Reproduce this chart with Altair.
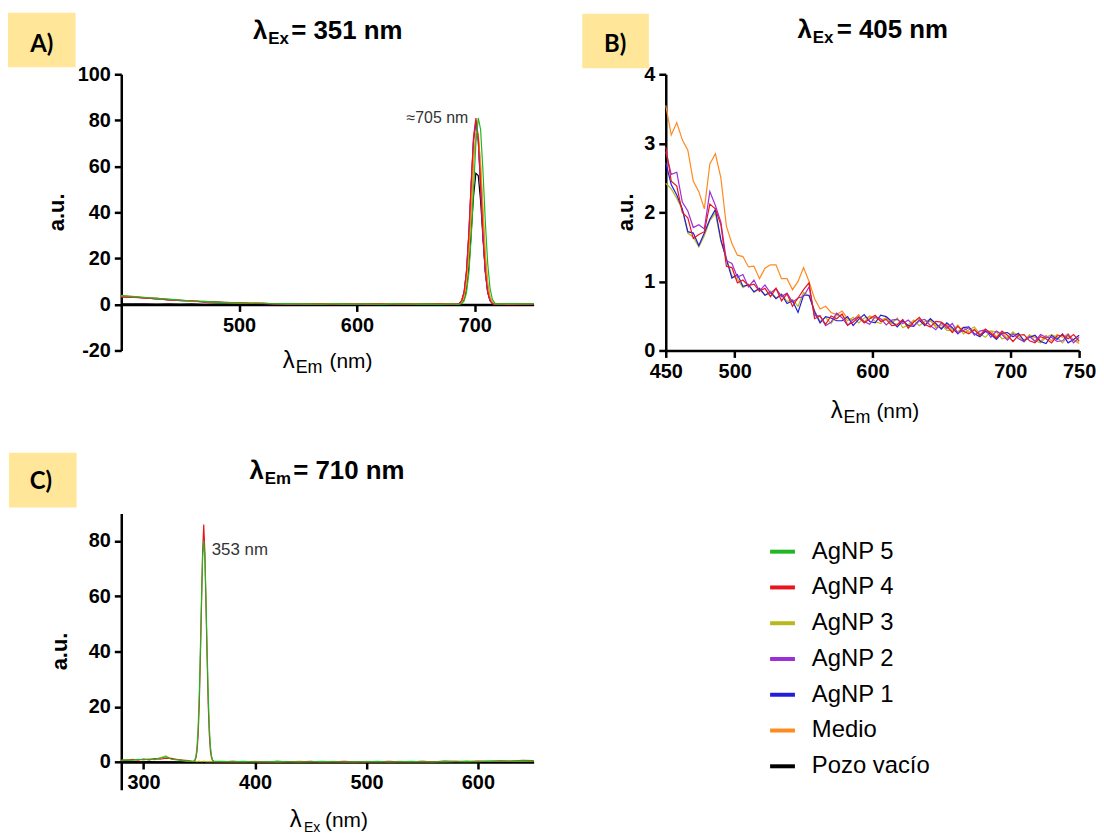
import altair as alt
import pandas as pd

SERIES = ["AgNP 5", "AgNP 4", "AgNP 3", "AgNP 2", "AgNP 1", "Medio", "Pozo vacío"]
COLORS = ["#22B722", "#E8161B", "#B8B81E", "#9B2FD6", "#1E1EDC", "#FF8A1E", "#000000"]
FONT = "Liberation Sans"

# ---------------- Panel A: excitation 351 nm, emission spectra ----------------
A_X = list(range(400, 681, 10)) + list(range(685, 720, 2)) + [730, 740, 750]
A_AGNP5 = ([3.8, 3.4, 3.0, 2.6, 2.3, 1.9, 1.5, 1.3, 1.0, 0.8, 0.7, 0.5, 0.5, 0.3, 0.4,
            0.2, 0.3, 0.1, 0.3, 0.2, 0.1, 0.3, 0.0, 0.2, 0.3, 0.1, 0.2, 0.0, 0.3]
           + [0.0, 0.1, 0.4, 1.5, 5, 13.5, 29, 50, 70, 81, 76, 58, 36, 18, 7, 2.2, 0.6, 0.1]
           + [0.4, 0.2, 0.3])
A_AGNP4 = ([3.2, 3.3, 2.7, 2.5, 2.0, 1.7, 1.6, 1.1, 1.1, 0.7, 0.8, 0.4, 0.6, 0.2, 0.4,
            0.1, 0.3, 0.2, 0.0, 0.3, 0.1, 0.2, 0.3, 0.0, 0.2, 0.1, 0.3, 0.2, 0.1]
           + [0.1, 0.4, 1.7, 5.4, 14.4, 30.6, 52.6, 72.7, 81, 72.7, 52.6, 30.6, 14.4, 5.4, 1.7, 0.4, 0.1, 0.0]
           + [0.3, 0.1, 0.2])
A_AGNP3 = ([4.0, 3.3, 3.1, 2.4, 2.2, 1.8, 1.4, 1.2, 0.9, 0.9, 0.6, 0.6, 0.4, 0.4, 0.2,
            0.3, 0.1, 0.3, 0.2, 0.1, 0.3, 0.1, 0.2, 0.2, 0.0, 0.3, 0.1, 0.2, 0.2]
           + [0.1, 0.3, 1.0, 3.5, 10, 23, 42, 63, 75, 74, 61, 41, 22, 9.5, 3.2, 0.9, 0.2, 0.0]
           + [0.2, 0.3, 0.4])
A_AGNP2 = ([3.5, 3.1, 2.8, 2.6, 2.0, 1.8, 1.3, 1.2, 1.0, 0.7, 0.7, 0.5, 0.4, 0.3, 0.3,
            0.2, 0.2, 0.1, 0.2, 0.0, 0.2, 0.1, 0.1, 0.3, 0.1, 0.0, 0.2, 0.1, 0.2]
           + [0.1, 0.4, 1.7, 5.3, 14.2, 30.2, 52, 71.8, 80, 71.8, 52, 30.2, 14.2, 5.3, 1.7, 0.4, 0.1, 0.0]
           + [0.1, 0.2, 0.1])
A_AGNP1 = ([3.4, 3.2, 2.9, 2.3, 2.1, 1.6, 1.5, 1.1, 0.9, 0.8, 0.5, 0.5, 0.3, 0.4, 0.2,
            0.2, 0.1, 0.2, 0.1, 0.1, 0.0, 0.2, 0.1, 0.1, 0.2, 0.0, 0.1, 0.1, 0.0]
           + [0.1, 0.4, 1.6, 5.2, 14.0, 29.8, 51.3, 70.9, 79, 70.9, 51.3, 29.8, 14.0, 5.2, 1.6, 0.4, 0.1, 0.0]
           + [0.1, 0.0, 0.1])
A_MEDIO = ([3.6, 3.5, 2.9, 2.7, 2.1, 1.9, 1.4, 1.3, 1.0, 0.9, 0.6, 0.6, 0.4, 0.3, 0.3,
            0.2, 0.2, 0.2, 0.1, 0.2, 0.2, 0.0, 0.2, 0.1, 0.1, 0.2, 0.0, 0.2, 0.1]
           + [0.1, 0.2, 0.8, 3.0, 9, 22, 41, 62, 74, 73, 60, 40, 21, 9, 3, 0.8, 0.2, 0.0]
           + [0.2, 0.1, 0.3])
A_POZO = ([0.3, 0.2, 0.3, 0.1, 0.2, 0.1, 0.2, 0.0, 0.1, 0.1, 0.0, 0.1, 0.0, 0.1, 0.0,
           0.0, 0.1, 0.0, 0.0, 0.1, 0.0, 0.0, 0.0, 0.1, 0.0, 0.0, 0.0, 0.1, 0.0]
          + [0.0, 0.1, 0.6, 2.2, 7, 16, 31, 47, 57, 56, 45, 29, 15, 6, 2, 0.5, 0.1, 0.0]
          + [0.0, 0.1, 0.0])

# ---------------- Panel B: excitation 405 nm, emission spectra ----------------
B_X = list(range(450, 751, 4))
B_MEDIO = [3.55, 3.12, 3.3, 3.05, 2.9, 2.45, 2.3, 2.05, 2.7, 2.85,
           2.5, 1.8, 1.55, 1.38, 1.36, 1.21, 1.22, 1.04, 1.19, 1.24,
           1.24, 1.04, 1.04, 0.88, 1.0, 1.2, 1.0, 0.75, 0.6, 0.64,
           0.55, 0.52, 0.57, 0.46, 0.44, 0.52, 0.41, 0.50, 0.47, 0.44,
           0.47, 0.40, 0.38, 0.44, 0.35, 0.42, 0.46, 0.37, 0.43, 0.36,
           0.33, 0.38, 0.30, 0.27, 0.34, 0.26, 0.31, 0.23, 0.27, 0.28,
           0.20, 0.26, 0.17, 0.24, 0.23, 0.15, 0.22, 0.19, 0.13, 0.22,
           0.14, 0.23, 0.19, 0.24, 0.15, 0.10]
B_AGNP3 = [2.42, 2.34, 2.2, 2.04, 1.7, 1.64, 1.5, 1.66, 1.88, 1.99,
           1.58, 1.34, 1.08, 1.04, 0.91, 0.96, 0.84, 0.89, 0.8, 0.86,
           0.76, 0.82, 0.71, 0.74, 0.64, 0.84, 0.79, 0.58, 0.42, 0.48,
           0.39, 0.51, 0.51, 0.43, 0.48, 0.40, 0.47, 0.49, 0.42, 0.39,
           0.48, 0.39, 0.47, 0.33, 0.37, 0.44, 0.36, 0.42, 0.45, 0.33,
           0.37, 0.29, 0.29, 0.37, 0.24, 0.30, 0.34, 0.24, 0.19, 0.28,
           0.27, 0.17, 0.19, 0.27, 0.20, 0.12, 0.23, 0.14, 0.11, 0.19,
           0.23, 0.19, 0.11, 0.21, 0.15, 0.13]
B_AGNP1 = [2.72, 2.4, 2.25, 2.05, 1.72, 1.7, 1.52, 1.7, 1.9, 2.04,
           1.6, 1.32, 1.05, 1.1, 0.93, 0.95, 0.85, 0.9, 0.8, 0.84,
           0.75, 0.81, 0.68, 0.72, 0.55, 0.8, 0.8, 0.56, 0.4, 0.49,
           0.47, 0.43, 0.43, 0.49, 0.36, 0.45, 0.52, 0.42, 0.40, 0.51,
           0.49, 0.42, 0.34, 0.43, 0.36, 0.35, 0.44, 0.36, 0.46, 0.39,
           0.31, 0.40, 0.33, 0.24, 0.33, 0.34, 0.24, 0.20, 0.28, 0.23,
           0.16, 0.25, 0.26, 0.20, 0.25, 0.14, 0.19, 0.22, 0.13, 0.10,
           0.22, 0.16, 0.24, 0.11, 0.16, 0.22]
B_AGNP2 = [2.88, 2.55, 2.58, 2.15, 2.02, 1.78, 1.82, 1.76, 2.3, 2.1,
           1.86, 1.3, 1.26, 1.06, 1.1, 0.92, 1.02, 0.86, 0.95, 0.83,
           0.9, 0.78, 0.83, 0.7, 0.76, 0.78, 0.92, 0.5, 0.5, 0.36,
           0.41, 0.54, 0.47, 0.36, 0.45, 0.49, 0.42, 0.38, 0.49, 0.46,
           0.37, 0.44, 0.45, 0.39, 0.44, 0.36, 0.43, 0.45, 0.36, 0.30,
           0.40, 0.32, 0.39, 0.25, 0.29, 0.33, 0.22, 0.28, 0.30, 0.19,
           0.28, 0.23, 0.15, 0.24, 0.17, 0.13, 0.20, 0.13, 0.23, 0.19,
           0.19, 0.13, 0.14, 0.23, 0.11, 0.19]
B_AGNP4 = [2.95, 2.45, 2.38, 2.0, 1.92, 1.62, 1.68, 1.72, 2.12, 2.05,
           1.82, 1.22, 1.2, 0.98, 1.02, 0.94, 0.96, 0.86, 0.9, 0.78,
           0.9, 0.72, 0.82, 0.64, 0.76, 0.88, 0.98, 0.46, 0.5, 0.38,
           0.50, 0.46, 0.53, 0.37, 0.41, 0.48, 0.40, 0.46, 0.51, 0.42,
           0.45, 0.36, 0.37, 0.45, 0.32, 0.41, 0.48, 0.38, 0.34, 0.42,
           0.41, 0.35, 0.26, 0.35, 0.28, 0.24, 0.30, 0.22, 0.31, 0.25,
           0.18, 0.28, 0.22, 0.13, 0.22, 0.23, 0.14, 0.11, 0.20, 0.17,
           0.11, 0.21, 0.22, 0.17, 0.23, 0.14]

# ---------------- Panel C: emission 710 nm, excitation spectra ----------------
C_X = list(range(280, 341, 5)) + list(range(344, 365)) + list(range(370, 651, 10))
C_AGNP5 = ([0.6, 0.8, 0.7, 1.0, 0.8, 1.1, 0.9, 1.4, 1.9, 1.0, 0.8, 0.5, 0.4]
           + [0.2, 0.3, 0.7, 2.1, 5.6, 12.6, 24.5, 41, 59.5, 74.3, 80, 74.3, 59.5, 41, 24.5,
              12.6, 5.6, 2.1, 0.7, 0.3, 0.2]
           + [0.2, 0.1, 0.2, 0.0, 0.1, 0.2, 0.1, 0.0, 0.1, 0.2, 0.1, 0.0, 0.1, 0.1, 0.2,
              0.0, 0.1, 0.2, 0.1, 0.0, 0.2, 0.1, 0.2, 0.1, 0.3, 0.2, 0.3, 0.4, 0.3])
C_AGNP4 = ([0.8, 0.6, 1.0, 0.7, 1.1, 0.9, 1.2, 1.0, 1.4, 1.3, 0.9, 0.7, 0.5]
           + [0.1, 0.2, 0.5, 1.5, 4, 10, 21, 38, 57, 76, 86, 76, 57, 38, 21, 10, 4, 1.5, 0.5, 0.2, 0.1]
           + [0.1, 0.2, 0.1, 0.1, 0.0, 0.2, 0.1, 0.1, 0.2, 0.0, 0.1, 0.2, 0.1, 0.0, 0.1,
              0.2, 0.1, 0.1, 0.2, 0.1, 0.3, 0.2, 0.1, 0.3, 0.2, 0.4, 0.3, 0.6, 0.5])
C_AGNP3 = ([0.5, 0.7, 0.6, 0.9, 1.0, 0.8, 1.1, 1.5, 2.2, 1.1, 1.0, 0.6, 0.3]
           + [0.3, 0.2, 0.3, 0.2, 0.1, 0.2, 0.3, 0.2, 0.1, 0.2, 0.3, 0.2, 0.1, 0.2, 0.1,
              0.2, 0.1, 0.2, 0.1, 0.2, 0.1]
           + [0.1, 0.2, 0.1, 0.2, 0.1, 0.0, 0.1, 0.2, 0.1, 0.1, 0.2, 0.1, 0.0, 0.2, 0.1,
              0.1, 0.2, 0.1, 0.2, 0.1, 0.1, 0.2, 0.3, 0.2, 0.2, 0.3, 0.2, 0.3, 0.4])
C_POZO = ([0.2, 0.1, 0.2, 0.1, 0.1, 0.2, 0.1, 0.1, 0.1, 0.1, 0.0, 0.0, 0.0]
          + [0.0] * 21
          + [0.0] * 29)


def long_df(x, series):
    rows = []
    for name, vals in series:
        if len(vals) != len(x):
            raise ValueError(f"{name}: {len(vals)} values for {len(x)} x")
        for xi, vi in zip(x, vals):
            rows.append({"nm": xi, "v": vi, "s": name})
    return pd.DataFrame(rows)


df_a = long_df(A_X, [("Pozo vacío", A_POZO), ("AgNP 1", A_AGNP1), ("AgNP 2", A_AGNP2),
                     ("AgNP 3", A_AGNP3), ("Medio", A_MEDIO), ("AgNP 4", A_AGNP4),
                     ("AgNP 5", A_AGNP5)])
df_b = long_df(B_X, [("Medio", B_MEDIO), ("AgNP 3", B_AGNP3), ("AgNP 1", B_AGNP1),
                     ("AgNP 2", B_AGNP2), ("AgNP 4", B_AGNP4)])
df_c = long_df(C_X, [("Pozo vacío", C_POZO), ("AgNP 3", C_AGNP3), ("AgNP 4", C_AGNP4),
                     ("AgNP 5", C_AGNP5)])

DUMMY = pd.DataFrame({"k": [0]})

COLOR = alt.Color(
    "s:N",
    scale=alt.Scale(domain=SERIES, range=COLORS),
    legend=alt.Legend(
        title=None, orient="none", legendX=651, legendY=466,
        symbolType="stroke", symbolStrokeWidth=4, symbolSize=625,
        labelFont=FONT, labelFontSize=24, labelColor="black",
        labelOffset=15, rowPadding=9, padding=0, labelLimit=300,
    ),
)


def txt(s, x, y, size, weight="normal", align="left", baseline="alphabetic",
        font=FONT, angle=0, color="black"):
    return alt.Chart(DUMMY).mark_text(
        text=s, fontSize=size, fontWeight=weight, align=align, baseline=baseline,
        font=font, angle=angle, color=color,
    ).encode(x=alt.value(x), y=alt.value(y))


def box(x1, x2, y1, y2):
    return alt.Chart(DUMMY).mark_rect(color="#FFE699").encode(
        x=alt.value(x1), x2=alt.value(x2), y=alt.value(y1), y2=alt.value(y2))


def panel(df, xdom, ydom, xvals, yvals, w, h, xoff, extras):
    lines = alt.Chart(df).mark_line(strokeWidth=1.2).encode(
        x=alt.X("nm:Q", scale=alt.Scale(domain=xdom, nice=False, zero=False),
                axis=alt.Axis(values=xvals, title=None, offset=xoff)),
        y=alt.Y("v:Q", scale=alt.Scale(domain=ydom, nice=False, zero=False),
                axis=alt.Axis(values=yvals, title=None)),
        color=COLOR,
    )
    return alt.layer(*extras[:1], lines, *extras[1:]).properties(width=w, height=h)


W, H = 415, 278

ann_a = alt.Chart(pd.DataFrame({"nm": [694.5], "v": [78.9], "t": ["≈705 nm"]})).mark_text(
    align="right", baseline="alphabetic", font=FONT, fontSize=16, color="#333333"
).encode(x="nm:Q", y="v:Q", text="t:N")
ann_c = alt.Chart(pd.DataFrame({"nm": [361.1], "v": [74.9], "t": ["353 nm"]})).mark_text(
    align="left", baseline="alphabetic", font=FONT, fontSize=17, color="#333333"
).encode(x="nm:Q", y="v:Q", text="t:N")

chart_a = panel(
    df_a, [400, 750], [-20, 100], [500, 600, 700], [-20, 0, 20, 40, 60, 80, 100],
    W, H, -46.3,
    [box(-114, -46, -62, -7),
     txt("A)", -80, -29.5, 24, "bold", "center", "middle", font="Lato"),
     txt("λ", 147, -35, 26, "bold", "right"),
     txt("Ex", 148, -30, 17, "bold"),
     txt("= 351 nm", 171, -35, 26, "bold"),
     txt("λ", 174.5, H + 18, 24, align="right"),
     txt("Em", 175.5, H + 23, 18),
     txt("(nm)", 209.6, H + 18, 21),
     txt("a.u.", -65, H / 2, 22, "bold", "center", "middle", angle=270),
     ann_a],
)

chart_b = panel(
    df_b, [450, 750], [0, 4], [450, 500, 600, 700, 750], [0, 1, 2, 3, 4],
    416, H, 0,
    [box(-84, -17, -61, -6),
     txt("B)", -51, -29.5, 24, "bold", "center", "middle", font="Lato"),
     txt("λ", 147, -36, 26, "bold", "right"),
     txt("Ex", 148, -31, 17, "bold"),
     txt("= 405 nm", 172, -36, 26, "bold"),
     txt("λ", 178, H + 68, 24, align="right"),
     txt("Em", 179, H + 73, 18),
     txt("(nm)", 212, H + 68, 21),
     txt("a.u.", -40, H / 2, 22, "bold", "center", "middle", angle=270)],
)

chart_c = panel(
    df_c, [280, 650], [-10, 90], [300, 400, 500, 600], [0, 20, 40, 60, 80],
    W, H, -27.8,
    [box(-113, -45, -61, -6),
     txt("C)", -81, -32, 24, "bold", "center", "middle", font="Lato"),
     txt("λ", 143.5, -35, 26, "bold", "right"),
     txt("Em", 144.5, -30, 17, "bold"),
     txt("= 710 nm", 173, -35, 26, "bold"),
     txt("λ", 181.5, H + 37.5, 24, align="right"),
     txt("Ex", 184, H + 42.5, 14),
     txt("(nm)", 205, H + 37.5, 21),
     txt("a.u.", -61.4, H / 2, 22, "bold", "center", "middle", angle=270),
     ann_c],
)

chart = alt.concat(
    chart_a, chart_b, chart_c, columns=2,
    spacing={"row": 164, "column": 133}, bounds="flush",
).properties(
    padding={"left": 0, "top": 2, "right": 0, "bottom": 0},
    background="white",
).configure_view(stroke=None).configure_axis(
    domainColor="black", domainWidth=2.5, tickColor="black", tickWidth=2.5, tickSize=7,
    labelFont=FONT, labelFontWeight="bold", labelFontSize=20, labelColor="black",
    labelPadding=4, grid=False, labelFlush=False, labelOverlap=False,
    labelExpr="replace(datum.label, '\u2212', '-')",
)

chart.save("out.html", embed_options={"renderer": "svg", "actions": False})
